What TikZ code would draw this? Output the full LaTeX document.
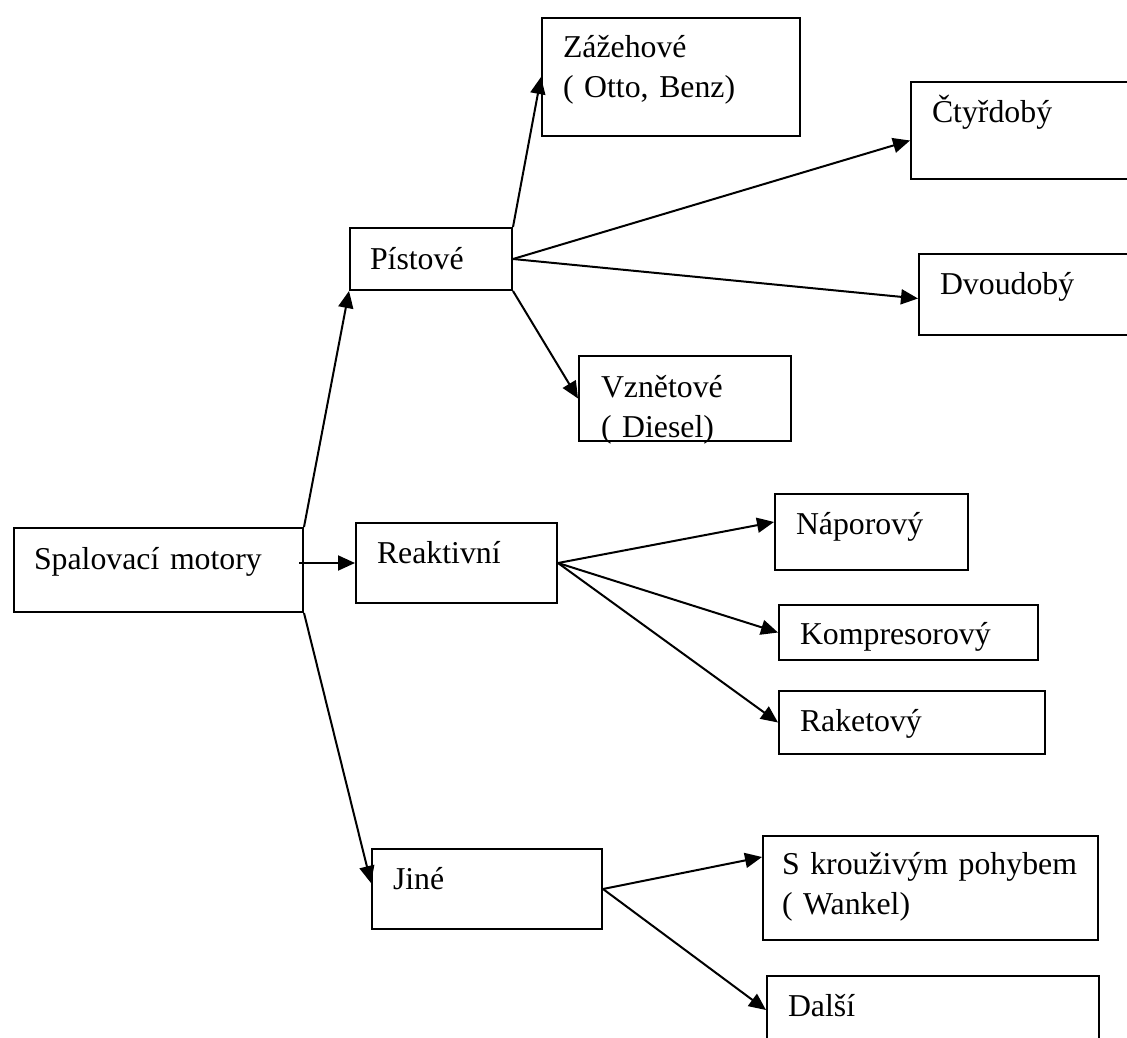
\documentclass[tikz,border=0pt]{standalone}
\usepackage{fontspec}
\setmainfont{Liberation Serif}
\usetikzlibrary{arrows.meta}

\begin{document}
\begin{tikzpicture}[x=1pt,y=-1pt,
  font=\fontsize{31.8pt}{40pt}\selectfont,
  box/.style={draw,line width=2pt,anchor=north west,inner xsep=21pt,inner ysep=0pt,align=left},
  arr/.style={line width=2pt,-{Triangle[length=17pt,width=15pt]}}]
\useasboundingbox (0,0) rectangle (1127,1038);
\clip (0,0) rectangle (1127,1038);

% Main box
\node[box,inner xsep=20pt,text width=249pt,text height=41pt,text depth=43pt] (spal) at (13,527) {Spalovací motory};

% Second level
\node[box,inner xsep=20pt,text width=122pt,text height=41pt,text depth=21pt] (pist) at (349,227) {Pístové};
\node[box,text width=159pt,text height=40pt,text depth=40pt] (reak) at (355,522) {Reaktivní};
\node[box,text width=188pt,text height=40pt,text depth=40pt] (jine) at (371,848) {Jiné};

% Third level
\node[box,text width=216pt,text height=40pt,text depth=78pt] (zaz) at (541,17) {Zážehové\\( Otto, Benz)};
\node[box,text width=198pt,text height=41pt,text depth=56pt] (ctyr) at (910,81) {Čtyřdobý};
\node[box,text width=190pt,text height=40pt,text depth=41pt] (dvou) at (918,253) {Dvoudobý};
\node[box,inner xsep=22pt,text width=168pt,text height=41pt,text depth=44pt] (vzne) at (578,355) {Vznětové\\( Diesel)};
\node[box,text width=151pt,text height=40pt,text depth=36pt] (napo) at (774,493) {Náporový};
\node[box,text width=217pt,text height=39pt,text depth=16pt] (komp) at (778,604) {Kompresorový};
\node[box,text width=224pt,text height=40pt,text depth=23pt] (rake) at (778,690) {Raketový};
\node[box,inner xsep=19pt,text width=297pt,text height=38pt,text depth=66pt] (skro) at (762,835) {\mbox{S krouživým pohybem}\\( Wankel)};
\node[box,text width=290pt,text height=40pt,text depth=45pt] (dals) at (766,975) {Další};

% Arrows
\draw[arr] (spal.north east) -- (pist.south west);
\draw[arr] ([xshift=-5pt,yshift=7pt]spal.east) -- (reak.west);
\draw[arr] (spal.south east) -- ([yshift=6pt]jine.west);

\draw[arr] (pist.north east) -- (zaz.west);
\draw[arr] (pist.east) -- ([yshift=-10pt]ctyr.west);
\draw[arr] (pist.east) -- ([yshift=-4pt]dvou.west);
\draw[arr] (pist.south east) -- (vzne.west);

\draw[arr] (reak.east) -- ([yshift=10pt]napo.west);
\draw[arr] (reak.east) -- (komp.west);
\draw[arr] (reak.east) -- (rake.west);

\draw[arr] (jine.east) -- ([yshift=-22pt]skro.north west);
\draw[arr] (jine.east) -- ([yshift=-35pt]dals.north west);
\end{tikzpicture}
\end{document}
